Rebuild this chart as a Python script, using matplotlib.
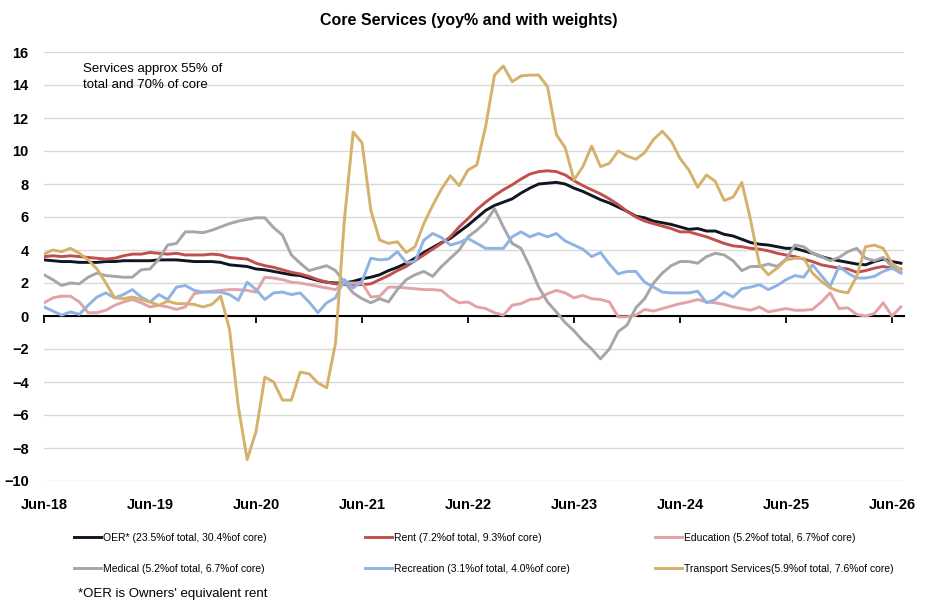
import numpy as np
import matplotlib
matplotlib.use("Agg")
from matplotlib import pyplot as plt
from matplotlib import font_manager

# monthly yoy %, Jun-18 .. Jul-26
oer = [3.4, 3.35, 3.3, 3.3, 3.25, 3.25, 3.25, 3.3, 3.3, 3.35,
       3.35, 3.35, 3.35, 3.4, 3.4, 3.4, 3.35, 3.3, 3.3, 3.3,
       3.25, 3.1, 3.05, 3.0, 2.85, 2.8, 2.7, 2.6, 2.5, 2.45,
       2.3, 2.15, 2.05, 2.0, 2.0, 2.1, 2.25, 2.35, 2.5, 2.75,
       2.95, 3.2, 3.5, 3.85, 4.15, 4.45, 4.7, 5.1, 5.5, 5.95,
       6.4, 6.7, 6.9, 7.1, 7.45, 7.75, 8.0, 8.05, 8.1, 8.0,
       7.75, 7.55, 7.3, 7.05, 6.85, 6.6, 6.35, 6.05, 5.95, 5.75,
       5.65, 5.55, 5.4, 5.25, 5.3, 5.15, 5.15, 4.95, 4.85, 4.65,
       4.45, 4.35, 4.3, 4.2, 4.1, 4.1, 3.95, 3.8, 3.6, 3.45,
       3.35, 3.25, 3.15, 3.1, 3.3, 3.45, 3.3, 3.2]

rent = [3.6, 3.65, 3.6, 3.65, 3.6, 3.55, 3.5, 3.45, 3.5, 3.65,
        3.75, 3.75, 3.85, 3.8, 3.75, 3.8, 3.7, 3.7, 3.7, 3.75,
        3.7, 3.55, 3.5, 3.45, 3.2, 3.05, 2.95, 2.8, 2.65, 2.55,
        2.4, 2.2, 2.05, 1.95, 1.9, 1.9, 1.9, 1.95, 2.2, 2.45,
        2.75, 3.0, 3.35, 3.7, 4.05, 4.4, 4.8, 5.4, 5.9, 6.45,
        6.9, 7.3, 7.65, 7.95, 8.3, 8.6, 8.75, 8.8, 8.75, 8.55,
        8.2, 7.9, 7.65, 7.4, 7.1, 6.75, 6.35, 6.0, 5.75, 5.6,
        5.45, 5.3, 5.1, 5.1, 4.95, 4.8, 4.6, 4.4, 4.25, 4.2,
        4.1, 4.05, 3.95, 3.8, 3.7, 3.6, 3.45, 3.3, 3.1, 3.0,
        2.9, 2.85, 2.65, 2.75, 2.9, 3.0, 2.9, 2.85]

education = [0.8, 1.1, 1.2, 1.2, 0.85, 0.2, 0.2, 0.35, 0.65, 0.85,
             1.0, 0.8, 0.55, 0.65, 0.55, 0.4, 0.55, 1.35, 1.45, 1.5,
             1.55, 1.6, 1.6, 1.55, 1.45, 2.35, 2.3, 2.2, 2.05, 2.0,
             1.9, 1.8, 1.7, 1.6, 2.0, 2.0, 2.0, 1.15, 1.2, 1.75,
             1.75, 1.7, 1.65, 1.6, 1.6, 1.55, 1.1, 0.8, 0.85, 0.55,
             0.45, 0.2, 0.05, 0.65, 0.75, 1.0, 1.05, 1.35, 1.55, 1.4,
             1.1, 1.25, 1.05, 1.0, 0.85, -0.05, -0.05, 0.05, 0.4, 0.3,
             0.45, 0.6, 0.75, 0.85, 1.0, 0.85, 0.8, 0.7, 0.55, 0.45,
             0.35, 0.55, 0.25, 0.35, 0.45, 0.35, 0.35, 0.4, 0.85, 1.4,
             0.45, 0.5, 0.1, 0.0, 0.15, 0.8, 0.0, 0.55]

medical = [2.5, 2.2, 1.85, 2.0, 1.95, 2.35, 2.6, 2.45, 2.4, 2.35,
           2.35, 2.8, 2.85, 3.45, 4.3, 4.4, 5.1, 5.1, 5.05, 5.2,
           5.4, 5.6, 5.75, 5.85, 5.95, 5.95, 5.35, 4.9, 3.7, 3.2,
           2.75, 2.9, 3.05, 2.75, 2.05, 1.4, 1.05, 0.8, 1.05, 0.85,
           1.6, 2.2, 2.5, 2.7, 2.4, 3.0, 3.5, 4.0, 4.8, 5.2,
           5.7, 6.5, 5.4, 4.4, 4.1, 3.0, 1.75, 0.85, 0.25, -0.4,
           -0.9, -1.5, -2.0, -2.6, -2.0, -0.95, -0.55, 0.5, 1.05, 2.0,
           2.6, 3.05, 3.3, 3.3, 3.2, 3.6, 3.8, 3.7, 3.35, 2.75,
           3.0, 3.0, 3.15, 3.0, 3.45, 4.3, 4.2, 3.8, 3.6, 3.35,
           3.55, 3.9, 4.1, 3.5, 3.35, 3.55, 3.0, 2.65]

recreation = [0.55, 0.3, 0.05, 0.25, 0.1, 0.65, 1.15, 1.4, 1.1, 1.3,
              1.6, 1.15, 0.85, 1.3, 1.0, 1.75, 1.85, 1.55, 1.45, 1.45,
              1.45, 1.3, 0.95, 2.05, 1.6, 1.0, 1.4, 1.45, 1.3, 1.4,
              0.85, 0.2, 0.8, 1.1, 2.2, 1.7, 2.1, 3.5, 3.4, 3.45,
              3.9, 3.25, 3.3, 4.6, 5.0, 4.75, 4.3, 4.45, 4.7, 4.4,
              4.1, 4.1, 4.1, 4.8, 5.1, 4.8, 5.0, 4.8, 5.0, 4.55,
              4.3, 4.05, 3.6, 3.85, 3.15, 2.55, 2.7, 2.7, 2.05, 1.75,
              1.45, 1.4, 1.4, 1.4, 1.5, 0.8, 1.0, 1.45, 1.15, 1.65,
              1.75, 1.9, 1.6, 1.85, 2.2, 2.45, 2.35, 3.1, 2.45, 1.8,
              3.0, 2.6, 2.3, 2.3, 2.4, 2.7, 2.9, 2.6]

transport = [3.75, 4.0, 3.9, 4.1, 3.8, 3.4, 2.85, 2.0, 1.1, 1.05,
             1.15, 1.0, 0.85, 0.65, 0.9, 0.75, 0.75, 0.7, 0.55, 0.7,
             1.2, -0.8, -5.5, -8.7, -7.0, -3.7, -4.0, -5.1, -5.1, -3.4,
             -3.5, -4.05, -4.35, -1.65, 5.8, 11.15, 10.5, 6.4, 4.6, 4.4,
             4.5, 3.85, 4.2, 5.6, 6.7, 7.7, 8.5, 7.9, 8.85, 9.15,
             11.5, 14.6, 15.15, 14.2, 14.55, 14.6, 14.6, 13.9, 11.0, 10.2,
             8.25, 9.05, 10.3, 9.05, 9.25, 10.0, 9.7, 9.5, 9.9, 10.7,
             11.2, 10.6, 9.55, 8.85, 7.8, 8.55, 8.15, 7.0, 7.2, 8.1,
             5.8, 3.1, 2.5, 2.9, 3.4, 3.5, 3.5, 2.6, 2.1, 1.7,
             1.5, 1.4, 2.4, 4.2, 4.3, 4.1, 3.2, 2.8]

tick_labels = ["Jun-18", "Jun-19", "Jun-20", "Jun-21", "Jun-22",
               "Jun-23", "Jun-24", "Jun-25", "Jun-26"]

names = ["OER* (23.5%of total, 30.4%of core)",
         "Rent (7.2%of total, 9.3%of core)",
         "Education (5.2%of total, 6.7%of core)",
         "Medical (5.2%of total, 6.7%of core)",
         "Recreation (3.1%of total, 4.0%of core)",
         "Transport Services(5.9%of total, 7.6%of core)"]
colors = ["#0e1622", "#c0504d", "#e3a3a6", "#a6a6a6", "#8fb4e3", "#d6b16b"]
series = [oer, rent, education, medical, recreation, transport]

installed = {f.name for f in font_manager.fontManager.ttflist}
main_font = "Liberation Sans" if "Liberation Sans" in installed else "DejaVu Sans"
narrow_font = "Liberation Sans Narrow" if "Liberation Sans Narrow" in installed else main_font
plt.rcParams['font.family'] = [main_font, 'DejaVu Sans']

fig = plt.figure(figsize=(9.3, 6.1), dpi=100)
ax = fig.add_axes([44 / 930, 1 - 481 / 610, (903.5 - 44) / 930, (481 - 52) / 610])

x = np.arange(len(oer))
lines = []
for vals, col in zip(series, colors):
    ln, = ax.plot(x, vals, color=col, lw=2.1, solid_joinstyle='round')
    lines.append(ln)

ax.set_xlim(0, 97.3)
ax.set_ylim(-10, 16)
ax.set_yticks(range(-10, 17, 2))
ax.grid(axis='y', color='#d9d9d9', lw=1)
ax.set_axisbelow(True)
for s in ['top', 'right', 'left']:
    ax.spines[s].set_visible(False)
ax.spines['bottom'].set_position(('data', 0))
ax.spines['bottom'].set_linewidth(1.5)
ax.spines['bottom'].set_zorder(1.5)

ticks = list(range(0, 97, 12))
ax.set_xticks(ticks)
ax.tick_params(axis='x', direction='out', length=5, width=1.3, labelbottom=False)
ax.tick_params(axis='y', length=0, pad=11, labelsize=10.5)
for lab in ax.get_yticklabels():
    lab.set_fontweight('bold')

sec = ax.secondary_xaxis('bottom')
sec.set_xticks(ticks, labels=tick_labels)
sec.tick_params(length=0, pad=12, labelsize=10.5)
for lab in sec.get_xticklabels():
    lab.set_fontweight('bold')
sec.spines['bottom'].set_visible(False)

fig.text(469 / 930, 1 - 20 / 610, "Core Services (yoy% and with weights)",
         ha='center', va='center', fontsize=11.5, fontweight='bold')
fig.text(83 / 930, 1 - 63 / 610, "Services approx 55% of\ntotal and 70% of core",
         ha='left', va='top', fontsize=9.5, linespacing=1.5)

# legend: three columns, two rows
for xpos, idx in [(74, [0, 3]), (365, [1, 4]), (655, [2, 5])]:
    fig.legend([lines[i] for i in idx], [names[i] for i in idx],
               loc='upper left', bbox_to_anchor=(xpos / 930, 1 - 533 / 610),
               frameon=False, handlelength=2.6, handletextpad=0.2,
               labelspacing=2.0, borderpad=0, borderaxespad=0,
               prop={'family': narrow_font, 'size': 7.5})

fig.text(78 / 930, 1 - 594 / 610, "*OER is Owners' equivalent rent",
         ha='left', va='center', fontsize=9.5)

fig.savefig("out.png", dpi=100)
